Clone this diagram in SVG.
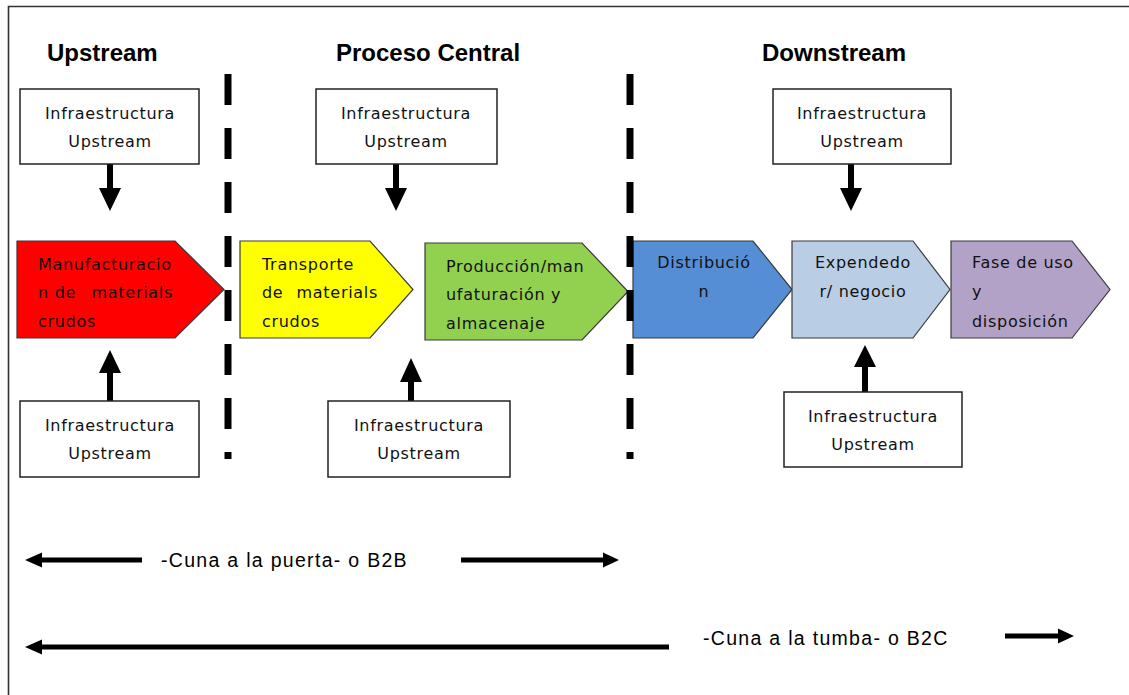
<svg xmlns="http://www.w3.org/2000/svg" width="1129" height="695" viewBox="0 0 1129 695">
<style>
.hdr{font-family:"Liberation Sans",Arial,sans-serif;font-weight:bold;font-size:24px;fill:#000}
.t{font-family:"DejaVu Sans","Liberation Sans",sans-serif;font-size:16px;letter-spacing:0.7px;fill:#111}
.c{text-anchor:middle}
.box{fill:#fff;stroke:#222;stroke-width:1.5}
.chev{stroke:#3a3a3a;stroke-width:1.2}
.arr{fill:#000}
.div{stroke:#000;stroke-width:7;stroke-dasharray:31 23;fill:none}
.lbl{font-family:"Liberation Sans",Arial,sans-serif;font-size:19.5px;letter-spacing:1.3px;fill:#000}
</style>
<rect width="1129" height="695" fill="#fff"/>
<g id="frame" fill="none" stroke="#333" stroke-width="1.6">
<polyline points="8.5,695 8.5,6.5 1129,6.5"/>
</g>
<g id="headers">
<text class="hdr" x="47" y="61">Upstream</text>
<text class="hdr" x="336" y="61">Proceso Central</text>
<text class="hdr" x="762" y="61">Downstream</text>
</g>
<g id="connectors">
<polygon class="arr" points="107,164 113,164 113,188 121,188 110,211 99,188 107,188"/>
<polygon class="arr" points="393,164 399,164 399,188 407,188 396,211 385,188 393,188"/>
<polygon class="arr" points="848,164 854,164 854,188 862,188 851,211 840,188 848,188"/>
<polygon class="arr" points="107,401 113,401 113,373 121,373 110,350 99,373 107,373"/>
<polygon class="arr" points="408,401 414,401 414,382 422,382 411,358 400,382 408,382"/>
<polygon class="arr" points="862,392 868,392 868,367 876,367 865,345 854,367 862,367"/>
<polygon class="arr" points="25,560 42,552.5 42,557.5 142,557.5 142,562.5 42,562.5 42,567.5"/>
<polygon class="arr" points="461,557.5 603,557.5 603,552.5 619,560 603,567.5 603,562.5 461,562.5"/>
<polygon class="arr" points="25,647 42,639.5 42,644.5 669,644.5 669,649.5 42,649.5 42,654.5"/>
<polygon class="arr" points="1005,633.5 1058,633.5 1058,628.5 1074,636 1058,643.5 1058,638.5 1005,638.5"/>
</g>
<g id="infra1"><rect class="box" x="20" y="89" width="179" height="75"/><text class="t c" x="110" y="119">Infraestructura</text><text class="t c" x="110" y="147">Upstream</text></g>
<g id="infra2"><rect class="box" x="316" y="89" width="181" height="75"/><text class="t c" x="406" y="119">Infraestructura</text><text class="t c" x="406" y="147">Upstream</text></g>
<g id="infra3"><rect class="box" x="773" y="89" width="178" height="75"/><text class="t c" x="862" y="119">Infraestructura</text><text class="t c" x="862" y="147">Upstream</text></g>
<g id="infra4"><rect class="box" x="20" y="401" width="179" height="76"/><text class="t c" x="110" y="431">Infraestructura</text><text class="t c" x="110" y="459">Upstream</text></g>
<g id="infra5"><rect class="box" x="328" y="401" width="182" height="76"/><text class="t c" x="419" y="431">Infraestructura</text><text class="t c" x="419" y="459">Upstream</text></g>
<g id="infra6"><rect class="box" x="784" y="392" width="178" height="75"/><text class="t c" x="873" y="422">Infraestructura</text><text class="t c" x="873" y="450">Upstream</text></g>
<g id="manufactura">
<polygon class="chev" fill="#FF0000" points="17,241 175,241 224,289.5 175,338 17,338"/>
<text class="t" x="38" y="270">Manufacturacio</text>
<text class="t" x="38" y="298">n de</text><text class="t" x="173" y="298" text-anchor="end">materials</text>
<text class="t" x="38" y="327">crudos</text>
</g>
<g id="transporte">
<polygon class="chev" fill="#FFFF00" points="240,241 370,241 413,289.5 370,338 240,338"/>
<text class="t" x="262" y="270">Transporte</text>
<text class="t" x="262" y="298">de</text><text class="t" x="378" y="298" text-anchor="end">materials</text>
<text class="t" x="262" y="327">crudos</text>
</g>
<g id="produccion">
<polygon class="chev" fill="#92D050" points="425,243 582,243 628,291.5 582,340 425,340"/>
<text class="t" x="446" y="272">Producción/man</text>
<text class="t" x="446" y="300">ufaturación y</text>
<text class="t" x="446" y="329">almacenaje</text>
</g>
<g id="distribucion">
<polygon class="chev" fill="#558ED5" points="633,241 753,241 792,289.5 753,338 633,338"/>
<text class="t c" x="704" y="268">Distribució</text>
<text class="t c" x="704" y="297">n</text>
</g>
<g id="expendedor">
<polygon class="chev" fill="#B9CDE5" points="792,241 913,241 950,289.5 913,338 792,338"/>
<text class="t c" x="863" y="268">Expendedo</text>
<text class="t c" x="863" y="297">r/ negocio</text>
</g>
<g id="fase-uso">
<polygon class="chev" fill="#B3A2C7" points="951,241 1072,241 1110,289.5 1072,338 951,338"/>
<text class="t" x="972" y="268">Fase de uso</text>
<text class="t" x="972" y="297">y</text>
<text class="t" x="972" y="327">disposición</text>
</g>
<g id="dividers">
<line class="div" x1="228" y1="74" x2="228" y2="459"/>
<line class="div" x1="630" y1="74" x2="630" y2="459"/>
</g>
<g id="labels">
<text class="lbl" x="161" y="567">-Cuna a la puerta- o B2B</text>
<text class="lbl" x="703" y="645">-Cuna a la tumba- o B2C</text>
</g>
</svg>
